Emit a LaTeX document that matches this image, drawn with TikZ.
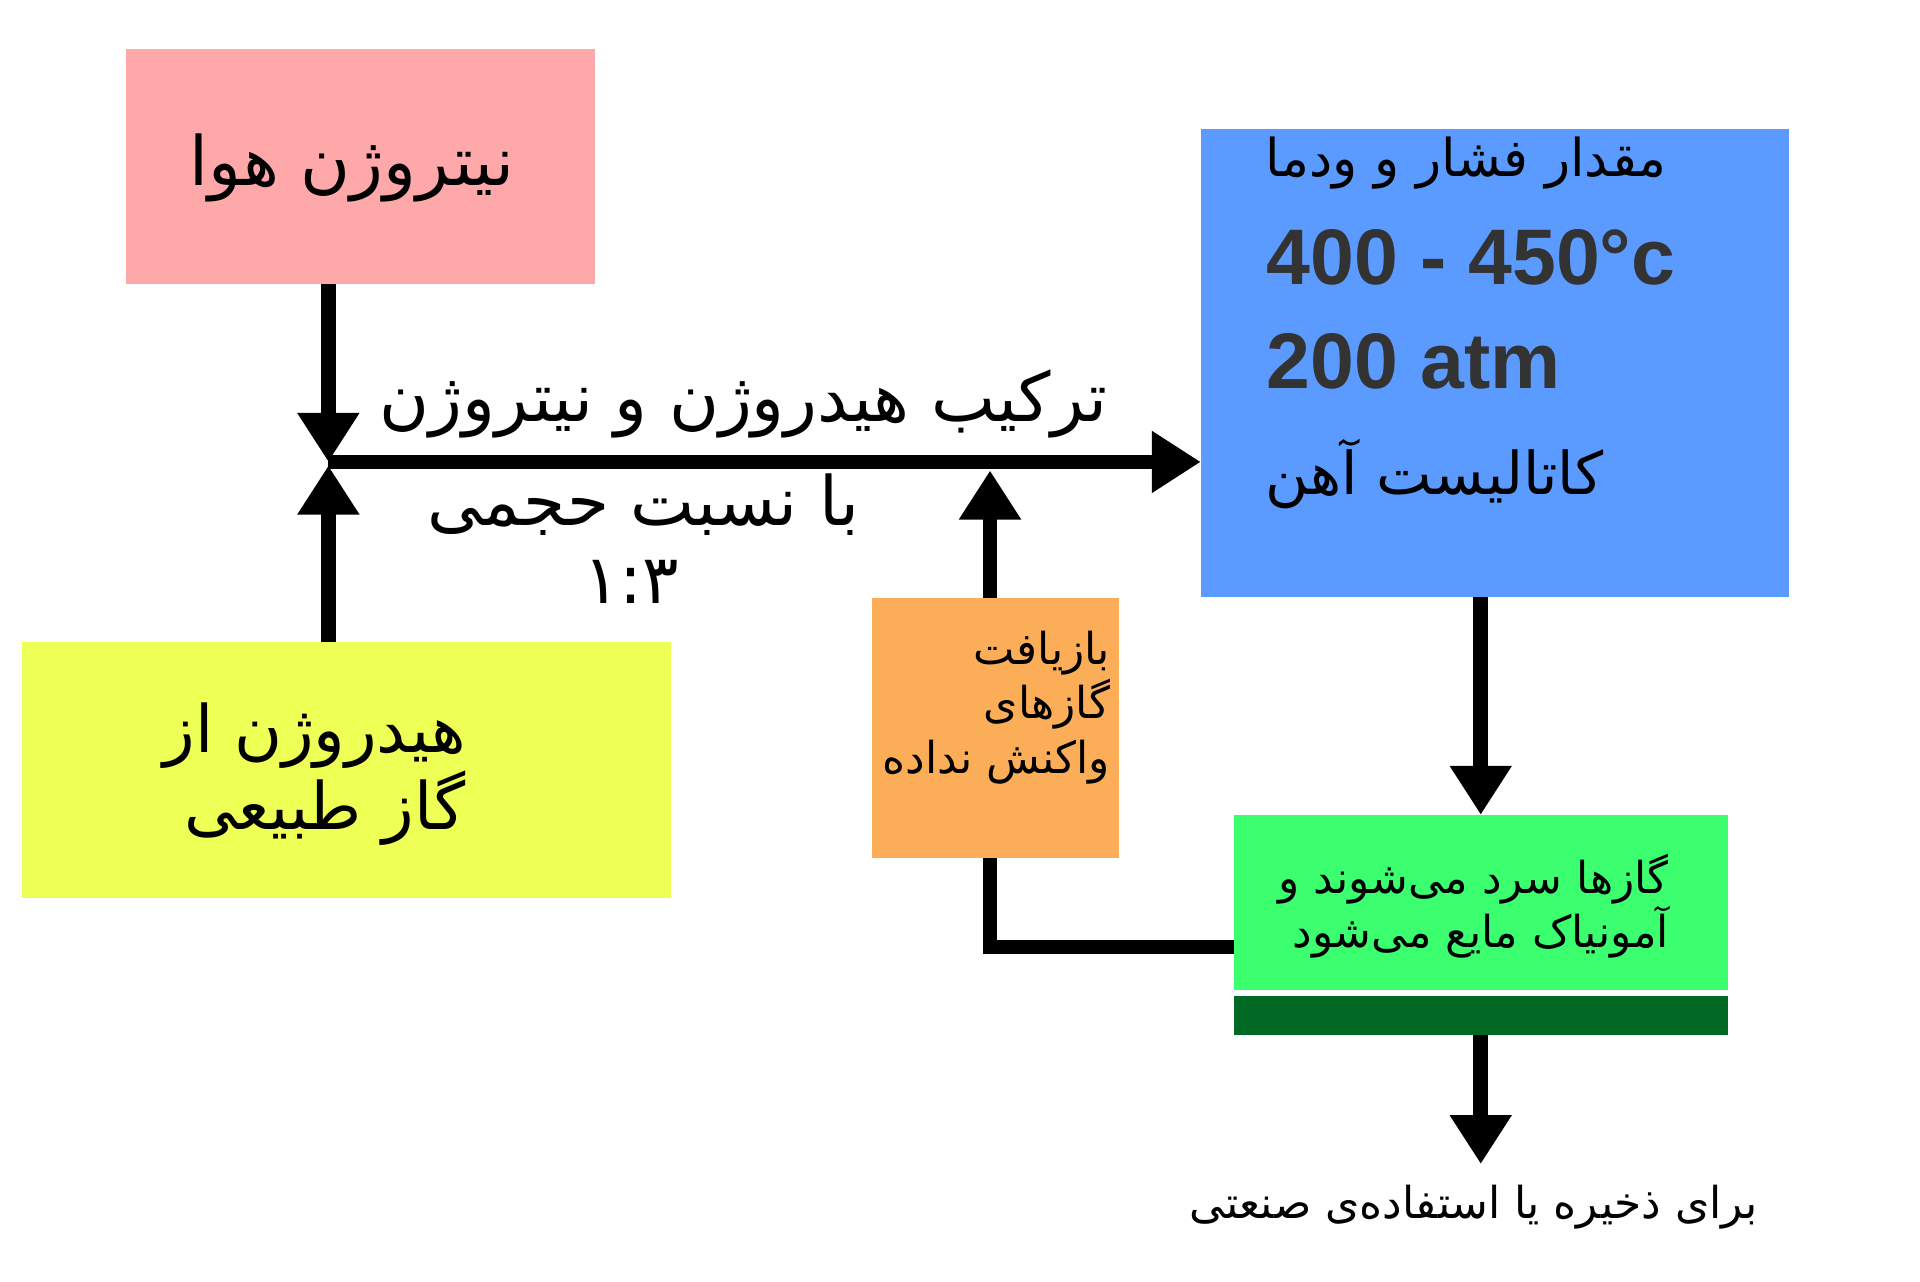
\documentclass[tikz,border=0pt]{standalone}
\usepackage{fontspec}
\usetikzlibrary{arrows.meta,positioning}
\TeXXeTstate=1
\newfontfamily\farsi[Script=Arabic]{DejaVu Sans}
\newfontfamily\latin{Liberation Sans}
\definecolor{airpink}{HTML}{FFA8AA}
\definecolor{gasyellow}{HTML}{EEFF55}
\definecolor{reactorblue}{HTML}{5B9BFF}
\definecolor{recycleorange}{HTML}{FCAD57}
\definecolor{coolgreen}{HTML}{3CFF70}
\definecolor{darkbar}{HTML}{006A25}
\definecolor{numgray}{HTML}{333333}

\begin{document}
\begin{tikzpicture}[->,>={Triangle[width=0.48cm,length=0.4cm]},line width=0.12cm,
                    font=\farsi]
  \tikzstyle{box}=[draw=none,inner sep=0pt,line width=0pt]
  \tikzstyle{big}=[font=\farsi\fontsize{15.8}{18}\selectfont]
  \tikzstyle{small}=[font=\farsi\fontsize{10.2}{12.7}\selectfont]
  \useasboundingbox (0,0) rectangle (15.67,-10.455);

  % boxes
  \node[box,fill=airpink,minimum width=3.83cm,minimum height=1.92cm]       (N) at (2.945,-1.36) {};
  \node[box,fill=gasyellow,minimum width=5.30cm,minimum height=2.09cm]     (H) at (2.83,-6.285) {};
  \node[box,fill=reactorblue,minimum width=4.80cm,minimum height=3.82cm]   (R) at (12.20,-2.96) {};
  \node[box,fill=recycleorange,minimum width=2.01cm,minimum height=2.12cm] (G) at (8.125,-5.94) {};
  \node[box,fill=coolgreen,minimum width=4.03cm,minimum height=1.43cm]     (K) at (12.085,-7.365) {};
  \node[box,fill=darkbar,minimum width=4.03cm,minimum height=0.32cm]       (S) [below=0.05cm of K] {};

  % texts
  \node[big] (Nt) at (2.87,-1.37) {\beginR نیتروژن هوا\endR};
  \node[anchor=east,align=right,inner sep=0pt,font=\farsi\fontsize{15.2}{17.9}\selectfont] (Ht) at (3.86,-6.315)
       {\beginR هیدروژن از\endR\\\beginR گاز طبیعی\endR};
  \node[anchor=west,inner sep=0pt,font=\farsi\fontsize{12.1}{14}\selectfont] (R1) at (10.27,-1.33) {\beginR مقدار فشار و ودما\endR};
  \node[anchor=west,inner sep=0pt,text=numgray,font=\latin\bfseries\fontsize{18.3}{22}\selectfont] (R2) at (10.28,-2.10) {400 - 450°c};
  \node[anchor=west,inner sep=0pt,text=numgray,font=\latin\bfseries\fontsize{18.3}{22}\selectfont] (R3) at (10.28,-2.95) {200 atm};
  \node[anchor=west,inner sep=0pt,font=\farsi\fontsize{13.7}{16}\selectfont] (R4) at (10.27,-3.87) {\beginR کاتالیست آهن\endR};
  \node[small,anchor=east,align=right,inner sep=0pt] (Gt) at (9.12,-5.775)
       {\beginR بازیافت\endR\\\beginR گازهای\endR\\\beginR واکنش نداده\endR};
  \node[small,anchor=east,align=right,inner sep=0pt] (Kt) at (13.68,-7.395)
       {\beginR گازها سرد می‌شوند و\endR\\\beginR آمونیاک مایع می‌شود\endR};

  % flow
  \coordinate (J) at (2.68,-3.77);
  \coordinate (M) at (8.08,-3.84);
  \coordinate (E) at (12.085,-9.50);
  \coordinate (B) at (8.08,-7.73);

  \draw (J |- N.south) -- (J);
  \draw (J |- H.north) -- ([yshift=-0.03cm]J);
  \draw (J) -- (R.west |- J);
  \draw (M |- G.north) -- (M);
  \draw (R.south -| K.north) -- (K.north);
  \draw (S.south) -- (E);
  \draw[-] (K.west |- B) -- (B) -- (B |- G.south);

  % labels on the mixing line
  \node[big] (L1) at (6.07,-3.30) {\beginR ترکیب هیدروژن و نیتروژن\endR};
  \node[big] (L2) at (5.25,-4.12) {\beginR با نسبت حجمی\endR};
  \node[big] (L3) at (5.15,-4.75) {۱:۳};
  \node[small] (Et) at (12.03,-9.85) {\beginR برای ذخیره یا استفاده‌ی صنعتی\endR};
\end{tikzpicture}
\end{document}
